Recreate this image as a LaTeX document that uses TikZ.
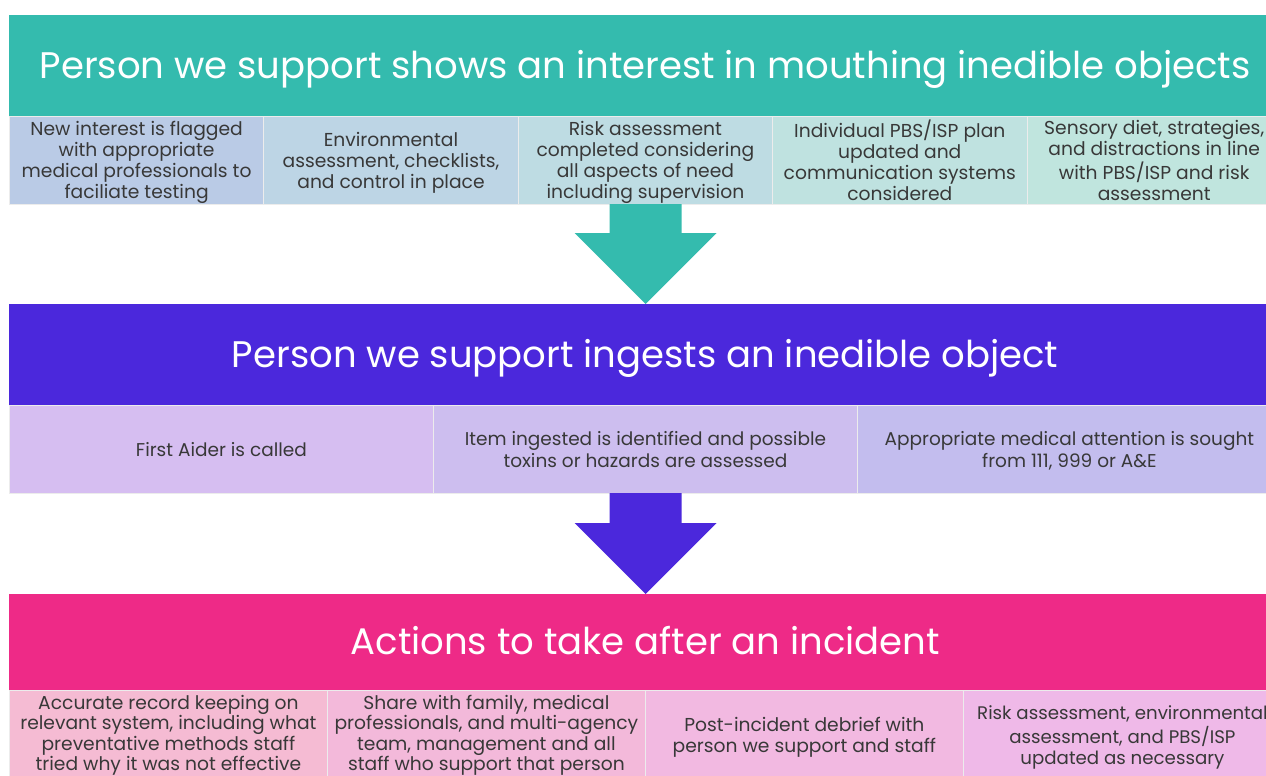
\documentclass[tikz,border=0pt]{standalone}
\usepackage{fontspec}
\setmainfont{Poppins}

\definecolor{tealbar}{HTML}{34BBAE}
\definecolor{violetbar}{HTML}{4B28DC}
\definecolor{pinkbar}{HTML}{EE2A87}
\definecolor{tA}{HTML}{BACBE6}
\definecolor{tB}{HTML}{BDD5E5}
\definecolor{tC}{HTML}{BEDCE3}
\definecolor{tD}{HTML}{BFE2E0}
\definecolor{tE}{HTML}{C0E5DE}
\definecolor{mA}{HTML}{D6BEF1}
\definecolor{mB}{HTML}{CDBEEF}
\definecolor{mC}{HTML}{C3BDEE}
\definecolor{bA}{HTML}{F5BBD3}
\definecolor{bB}{HTML}{F3B9DA}
\definecolor{bC}{HTML}{F2B9E1}
\definecolor{bD}{HTML}{EFB9E8}
\definecolor{bodytext}{HTML}{383838}

% centred lines of a cell, lowered by the optional amount
\newcommand{\celltext}[2][2.5pt]{%
  \raisebox{-#1}[\height][\depth]{\begin{tabular}{@{}c@{}}#2\end{tabular}}}

\tikzset{
  bar/.style={anchor=north west, inner sep=0pt, minimum width=1272pt,
    minimum height=#1, text=white, text height=30pt, text depth=5pt,
    font=\fontsize{37}{42}\selectfont},
  cell/.style={anchor=north west, inner sep=0pt, draw=white!85!gray,
    line width=0.8pt, text=bodytext},
  topcell/.style={cell, minimum width=254.4pt, minimum height=88pt,
    font=\fontsize{18.7}{21}\selectfont},
  midcell/.style={cell, minimum width=424pt, minimum height=88pt,
    font=\fontsize{18.5}{22}\selectfont},
  lowcell/.style={cell, minimum width=318pt, minimum height=90pt,
    font=\fontsize{18.7}{20.6}\selectfont}
}

\begin{document}
\begin{tikzpicture}[x=1pt, y=-1pt]
  \useasboundingbox (0,0) rectangle (1266,776);
  \clip (0,0) rectangle (1266,776);

  % ---- stage 1: interest in mouthing ----
  \node[bar=101pt, fill=tealbar] (s1) at (9,15)
    {Person we support shows an interest in mouthing inedible objects};
  \node[topcell, fill=tA] (s1a) at (9,116)
    {\celltext{New interest is flagged\\with appropriate\\medical professionals to\\faciliate testing}};
  \node[topcell, fill=tB] (s1b) at (263.4,116)
    {\celltext{Environmental\\assessment, checklists,\\and control in place}};
  \node[topcell, fill=tC] (s1c) at (517.8,116)
    {\celltext{Risk assessment\\completed considering\\all aspects of need\\including supervision}};
  \node[topcell, fill=tD] (s1d) at (772.2,116)
    {\celltext{Individual PBS/ISP plan\\updated and\\communication systems\\considered}};
  \node[topcell, fill=tE] (s1e) at (1026.6,116)
    {\celltext{Sensory diet, strategies,\\and distractions in line\\with PBS/ISP and risk\\assessment}};

  % ---- stage 2: ingestion ----
  \node[bar=101pt, fill=violetbar] (s2) at (9,304)
    {Person we support ingests an inedible object};
  \node[midcell, fill=mA] (s2a) at (9,405) {\celltext{First Aider is called}};
  \node[midcell, fill=mB] (s2b) at (433,405)
    {\celltext{Item ingested is identified and possible\\toxins or hazards are assessed}};
  \node[midcell, fill=mC] (s2c) at (857,405)
    {\celltext{Appropriate medical attention is sought\\from 111, 999 or A\&E}};

  % ---- stage 3: after an incident ----
  \node[bar=96pt, fill=pinkbar] (s3) at (9,594)
    {Actions to take after an incident};
  \node[lowcell, fill=bA] (s3a) at (9,690)
    {\celltext[0.5pt]{Accurate record keeping on\\relevant system, including what\\preventative methods staff\\tried why it was not effective}};
  \node[lowcell, fill=bB] (s3b) at (327,690)
    {\celltext[0.5pt]{Share with family, medical\\professionals, and multi-agency\\team, management and all\\staff who support that person}};
  \node[lowcell, fill=bC] (s3c) at (645,690)
    {\celltext{Post-incident debrief with\\person we support and staff}};
  \node[lowcell, fill=bD, font=\fontsize{18.2}{21}\selectfont] (s3d) at (963,690)
    {\celltext{Risk assessment, environmental\\assessment, and PBS/ISP\\updated as necessary}};

  % ---- block arrows between the stages ----
  \coordinate (a1) at (645.5,204);
  \coordinate (a2) at (645.5,493);
  \fill[tealbar] (a1) ++(-36,0) -- ++(0,29) -- ++(-35,0) -- (645.5,304)
    -- (716.5,233) -- ++(-35,0) -- ++(0,-29) -- cycle;
  \fill[violetbar] (a2) ++(-36,0) -- ++(0,30) -- ++(-35,0) -- (645.5,594)
    -- (716.5,523) -- ++(-35,0) -- ++(0,-30) -- cycle;
\end{tikzpicture}
\end{document}
